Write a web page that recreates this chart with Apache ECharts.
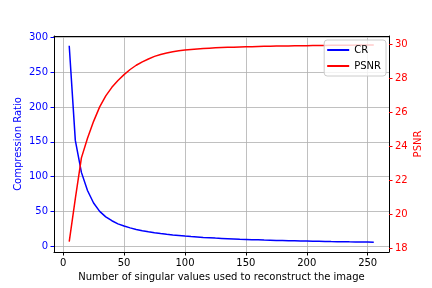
<!DOCTYPE html>
<html>
<head>
<meta charset="utf-8">
<script src="https://cdn.jsdelivr.net/npm/echarts@6/dist/echarts.min.js"></script>
<style>
html,body{margin:0;padding:0;background:#fff;}
#chart{width:432px;height:288px;}
</style>
</head>
<body>
<div id="chart"></div>
<script>
const kValues = [5,10,15,20,25,30,35,40,45,50,55,60,65,70,75,80,85,90,95,100,
  105,110,115,120,125,130,135,140,145,150,155,160,165,170,175,180,185,190,195,200,
  205,210,215,220,225,230,235,240,245,250,255];
const crValues = [288,152,106,80,62,50,42,36.5,32,28.8,26.2,24,22.2,20.6,19.2,18,16.9,16,15.2,14.4,
  13.7,13.1,12.5,12,11.5,11.1,10.7,10.3,9.9,9.6,9.3,9.0,8.7,8.5,8.2,8.0,7.8,7.6,7.4,7.2,
  7.0,6.9,6.7,6.5,6.4,6.3,6.1,6.0,5.9,5.8,5.6];
const psnrValues = [18.37,20.9,23.3,24.45,25.45,26.3,26.95,27.45,27.85,28.2,28.5,28.75,28.95,29.12,29.27,29.38,29.47,29.54,29.6,29.65,
  29.68,29.71,29.735,29.755,29.775,29.79,29.805,29.815,29.825,29.835,29.845,29.855,29.865,29.87,29.875,29.88,29.885,29.89,29.895,29.9,
  29.905,29.91,29.915,29.92,29.925,29.93,29.933,29.936,29.94,29.943,29.946];
const xTicks = [0,50,100,150,200,250];
const crTicks = [0,50,100,150,200,250,300];
const psnrTicks = [18,20,22,24,26,28,30];
const seriesNames = ['CR','PSNR'];
const xLabel = 'Number of singular values used to reconstruct the image';
const crLabel = 'Compression Ratio';
const psnrLabel = 'PSNR';

const FONT = 'DejaVu Sans';
const chart = echarts.init(document.getElementById('chart'), null, {renderer:'canvas'});
const option = {
  animation: false,
  backgroundColor: '#ffffff',
  textStyle: {fontFamily: FONT},
  grid: {left: 54, right: 43, top: 36, bottom: 36, containLabel: false},
  legend: {
    data: seriesNames,
    orient: 'vertical',
    right: 46, top: 40,
    padding: [4, 5, 4, 3],
    itemGap: 4,
    itemWidth: 22, itemHeight: 2,
    icon: 'rect',
    backgroundColor: 'rgba(255,255,255,0.8)',
    borderColor: '#cccccc', borderWidth: 1, borderRadius: 3,
    textStyle: {fontFamily: FONT, fontSize: 10, color: '#000', lineHeight: 12}
  },
  xAxis: [{
    type: 'value', min: -7.5, max: 267.5,
    name: xLabel, nameLocation: 'middle', nameGap: 20, nameMoveOverlap: false,
    nameTextStyle: {fontFamily: FONT, fontSize: 10, color: '#000'},
    axisLine: {show: true, onZero: false, lineStyle: {color: '#000', width: 1}},
    axisTick: {show: true, length: 3.5, customValues: xTicks, lineStyle: {color: '#000'}},
    axisLabel: {customValues: xTicks, margin: 6, fontFamily: FONT, fontSize: 10, color: '#000'},
    splitLine: {show: true, lineStyle: {color: '#b0b0b0', width: 0.8}}
  }, {
    type: 'value', min: -7.5, max: 267.5, position: 'top',
    axisLine: {show: true, onZero: false, lineStyle: {color: '#000', width: 1}},
    axisTick: {show: false}, axisLabel: {show: false}, splitLine: {show: false}
  }],
  yAxis: [{
    type: 'value', min: -8.49, max: 302.12, position: 'left',
    name: crLabel, nameLocation: 'middle', nameGap: 31, nameRotate: 90, nameMoveOverlap: false,
    nameTextStyle: {fontFamily: FONT, fontSize: 10, color: '#0000ff'},
    axisLine: {show: true, onZero: false, lineStyle: {color: '#000', width: 1}},
    axisTick: {show: true, length: 3.5, customValues: crTicks, lineStyle: {color: '#0000ff'}},
    axisLabel: {customValues: crTicks, margin: 6, fontFamily: FONT, fontSize: 10, color: '#0000ff'},
    splitLine: {show: true, lineStyle: {color: '#b0b0b0', width: 0.8}}
  }, {
    type: 'value', min: 17.765, max: 30.47, position: 'right',
    name: psnrLabel, nameLocation: 'middle', nameGap: 24, nameRotate: 90, nameMoveOverlap: false,
    nameTextStyle: {fontFamily: FONT, fontSize: 10, color: '#ff0000'},
    axisLine: {show: true, onZero: false, lineStyle: {color: '#000', width: 1}},
    axisTick: {show: true, length: 3.5, customValues: psnrTicks, lineStyle: {color: '#ff0000'}},
    axisLabel: {customValues: psnrTicks, margin: 6, fontFamily: FONT, fontSize: 10, color: '#ff0000'},
    splitLine: {show: false}
  }],
  series: [{
    name: seriesNames[0], type: 'line', xAxisIndex: 0, yAxisIndex: 0,
    data: kValues.map((k, i) => [k, crValues[i]]),
    symbol: 'none', smooth: false,
    lineStyle: {color: '#0000ff', width: 1.5}, itemStyle: {color: '#0000ff'}
  }, {
    name: seriesNames[1], type: 'line', xAxisIndex: 0, yAxisIndex: 1,
    data: kValues.map((k, i) => [k, psnrValues[i]]),
    symbol: 'none', smooth: false,
    lineStyle: {color: '#ff0000', width: 1.5}, itemStyle: {color: '#ff0000'}
  }]
};
chart.setOption(option);
</script>
</body>
</html>
